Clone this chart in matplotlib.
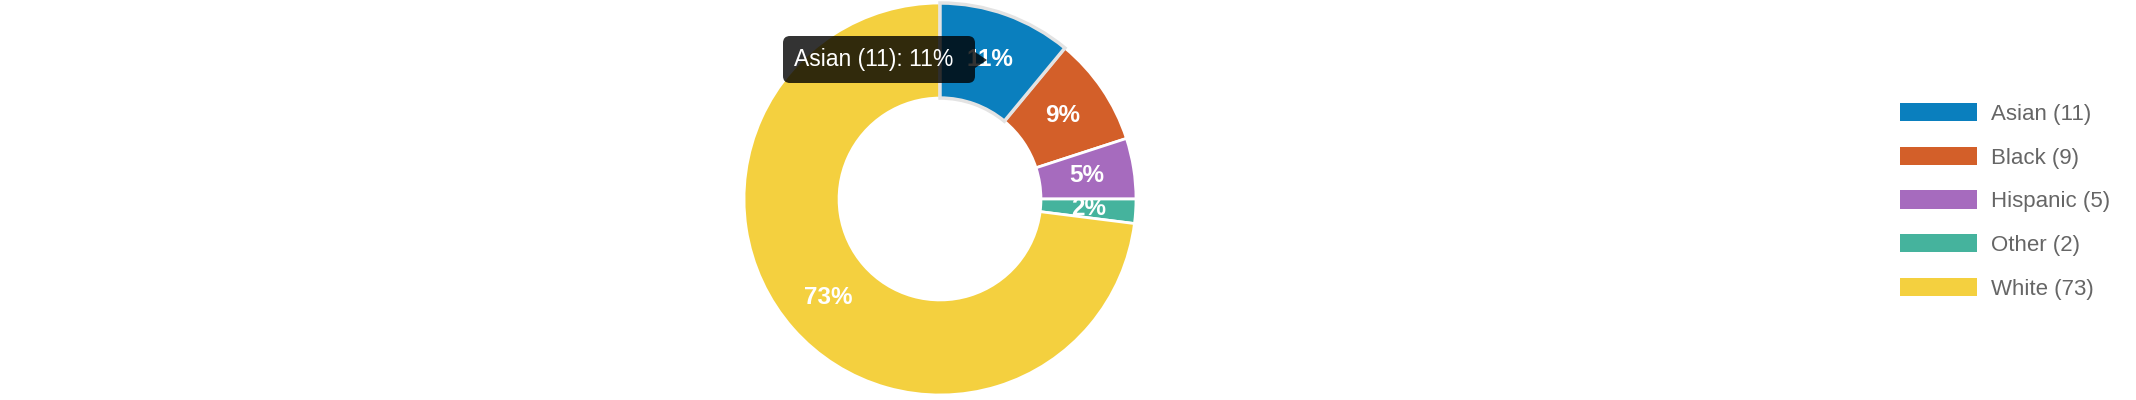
import matplotlib.pyplot as plt
import numpy as np
from matplotlib.patches import FancyBboxPatch, Polygon

plt.rcParams['font.family'] = ['Liberation Sans', 'DejaVu Sans']

# data
groups = ['Asian', 'Black', 'Hispanic', 'Other', 'White']
counts = [11, 9, 5, 2, 73]
colors = ['#0A7FBE', '#D35F29', '#A66BBE', '#45B39D', '#F4D03F']
hovered = 'Asian'

W, H = 2136, 400
fig = plt.figure(figsize=(W / 100, H / 100), dpi=100)
ax = fig.add_axes([0, 0, 1, 1])

cx, cy, R = 940, 201, 196
legend_labels = [f'{g} ({c})' for g, c in zip(groups, counts)]
wedges, _ = ax.pie(counts, colors=colors, startangle=90, counterclock=False,
                   center=(cx, cy), radius=R, frame=True,
                   wedgeprops=dict(width=R * 0.485, edgecolor='white', linewidth=2))
ax.set_xlim(0, W)
ax.set_ylim(0, H)
ax.axis('off')

# hover outline on the active slice
for w, g in zip(wedges, groups):
    if g == hovered:
        w.set_edgecolor('#e3e3e3')
        w.set_linewidth(2.5)
        w.set_zorder(3)

# percentage labels at the middle of each arc
total = sum(counts)
rmid = R - R * 0.485 / 2
for w, c in zip(wedges, counts):
    ang = np.deg2rad((w.theta1 + w.theta2) / 2)
    ax.text(cx + rmid * np.cos(ang), cy + rmid * np.sin(ang),
            f'{round(100 * c / total)}%', color='white', fontsize=17.5,
            fontweight='bold', ha='center', va='center', zorder=4)

# tooltip for hovered slice
i = groups.index(hovered)
tip = f'{groups[i]} ({counts[i]}): {round(100 * counts[i] / total)}%'
bx0, bx1, by0, by1 = 783, 975, H - 83, H - 36
box = FancyBboxPatch((bx0, by0), bx1 - bx0, by1 - by0,
                     boxstyle='round,pad=0,rounding_size=7',
                     fc='black', ec='none', alpha=0.8, zorder=5)
ax.add_patch(box)
ax.add_patch(Polygon([(bx1, H - 52), (bx1 + 12, H - 60), (bx1, H - 68)],
                     closed=True, fc='black', ec='none', alpha=0.8, zorder=5))
ax.text(bx0 + 11, (by0 + by1) / 2, tip, color='white', fontsize=16.5,
        ha='left', va='center', zorder=6)

fig.legend(wedges, legend_labels, loc='upper left',
           bbox_to_anchor=(1900 / W, 297 / H), frameon=False,
           fontsize=16, labelcolor='#666666', borderpad=0,
           handlelength=3.46, handleheight=0.9, handletextpad=0.63,
           labelspacing=0.98, borderaxespad=0)
for h in fig.legends[0].legend_handles:
    h.set_edgecolor('none')

fig.savefig('out.png', dpi=100)
